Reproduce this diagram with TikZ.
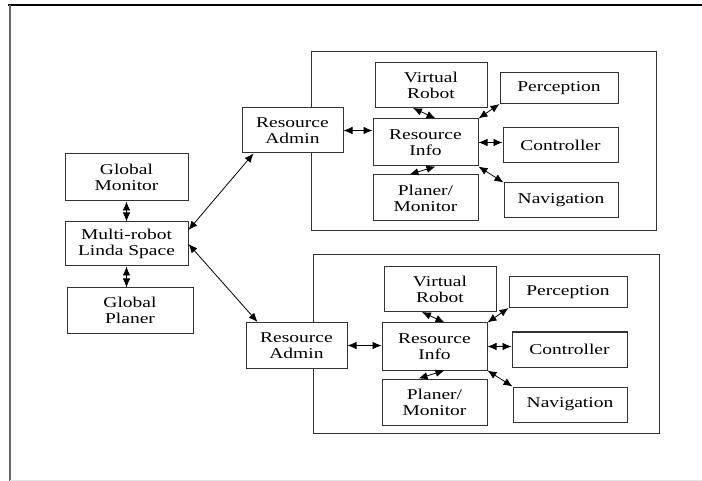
\documentclass[tikz,border=0pt]{standalone}
\usepackage{fontspec}
\setmainfont[FakeStretch=1.3]{Liberation Serif}
\usetikzlibrary{arrows.meta}
\definecolor{frameline}{HTML}{333333}
\tikzset{
  module/.style={draw=frameline,line width=1pt,fill=white,align=center,inner sep=0pt,
    font=\rmfamily\fontsize{15}{16}\selectfont},
  unitframe/.style={draw=frameline,line width=1pt},
  link/.style={{Latex[length=9pt,width=7.5pt]}-{Latex[length=9pt,width=7.5pt]},line width=0.8pt}
}
% one robot: resource info with its modules, shifted by (#2,#3)
\newcommand{\robotunit}[3]{%
  \begin{scope}[shift={(#2,#3)}]
    \node[module,minimum width=112pt,minimum height=45pt] (#1vr) at (431,85) {Virtual\\Robot};
    \node[module,minimum width=118pt,minimum height=31pt] (#1perc) at (559,88) {Perception};
    \node[module,minimum width=105pt,minimum height=47pt] (#1ri) at (425.5,142.5) {Resource\\Info};
    \node[module,minimum width=115pt,minimum height=35pt] (#1ctrl) at (560.5,145.5) {Controller};
    \node[module,minimum width=105pt,minimum height=46pt] (#1pm) at (425.5,198) {Planer/\\Monitor};
    \node[module,minimum width=114pt,minimum height=35pt] (#1nav) at (561,200.5) {Navigation};
  \end{scope}
  \draw[link] (#1admin.east) -- (#1admin.east -| #1ri.west);
  \draw[link] ([xshift=-18pt]#1vr.south) -- ([xshift=10pt]#1ri.north);
  \draw[link] (#1ri.north east) -- (#1perc.south west);
  \draw[link] (#1ri.east) -- (#1ri.east -| #1ctrl.west);
  \draw[link] ([xshift=-16pt]#1pm.north) -- ([xshift=10pt]#1ri.south);
  \draw[link] (#1ri.south east) -- (#1nav.north west);
}

\begin{document}
\begin{tikzpicture}[x=1pt,y=-1pt]
  \useasboundingbox (0,0) rectangle (702,481);
  % page frame
  \draw[line width=1.5pt] (8,5) -- (702,5);
  \draw[line width=2pt,draw=black!60] (10,5) -- (10,481);
  \draw[black!10] (10,480) -- (702,480);

  % robot frames
  \draw[unitframe] (311,52) rectangle (656,231);
  \draw[unitframe] (313,255) rectangle (659,433);

  % global part
  \node[module,minimum width=123pt,minimum height=47pt] (gmon) at (126.5,177.5) {Global\\Monitor};
  \node[module,minimum width=123pt,minimum height=44pt] (linda) at (126.5,244) {Multi-robot\\Linda Space};
  \node[module,minimum width=126pt,minimum height=45pt] (gplan) at (130,310.5) {Global\\Planer};

  \node[module,minimum width=101pt,minimum height=45pt] (uadmin) at (292.5,130.5) {Resource\\Admin};
  \node[module,minimum width=101pt,minimum height=46pt] (ladmin) at (296.5,345.5) {Resource\\Admin};

  \robotunit{u}{0}{0}
  \robotunit{l}{9}{204}

  \draw[link] (gmon.south) -- (linda.north);
  \draw[link] (linda.south) -- (linda.south |- gplan.north);
  \draw[link] ([yshift=14pt]linda.east) -- ([xshift=12pt]uadmin.south west);
  \draw[link] (linda.east) -- ([xshift=12pt]ladmin.north west);
\end{tikzpicture}
\end{document}
